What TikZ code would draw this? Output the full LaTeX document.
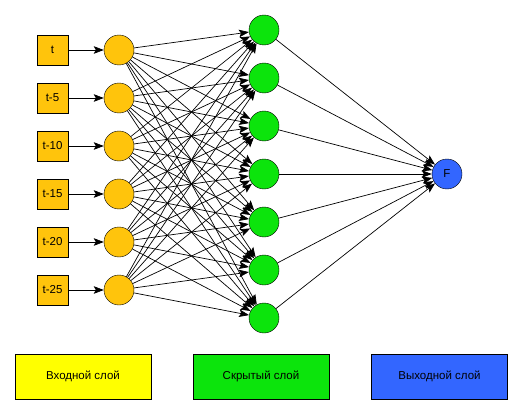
\documentclass[tikz,border=0pt]{standalone}
\usepackage{fontspec}
\setmainfont{Liberation Sans}
\usepackage{xcolor}
\usetikzlibrary{arrows.meta}

\definecolor{inorange}{HTML}{FFC40C}
\definecolor{hidgreen}{HTML}{0CE40C}
\definecolor{outblue}{HTML}{3366FF}
\definecolor{legyellow}{HTML}{FFFF00}

\tikzset{
  inbox/.style={draw=black, fill=inorange, minimum width=31pt, minimum height=30pt, inner sep=0pt, font=\fontsize{11.5}{13}\selectfont},
  neuron/.style={circle, draw=black, minimum size=30pt, inner sep=0pt, font=\fontsize{11.5}{13}\selectfont},
  legbox/.style={draw=black, minimum width=136pt, minimum height=45pt, inner sep=0pt, font=\fontsize{11.5}{13}\selectfont},
  conn/.style={-{Stealth[length=10pt,width=7.5pt,inset=2pt]}, line width=0.7pt}
}

\begin{document}
\begin{tikzpicture}[x=1pt, y=-1pt]
	  \useasboundingbox (0,0) rectangle (531,415);
	  % input layer
	  \foreach \lab [count=\i] in {t,t-5,t-10,t-15,t-20,t-25} {
	    \node[inbox] (x\i) at (52.5,{2+48*\i}) {\lab};
	    \node[neuron, fill=inorange] (in\i) at (119,{2+48*\i}) {};
	    \draw[conn] (x\i) -- (in\i);
	  }
	  % hidden layer
	  \foreach \j in {1,...,7}
	    \node[neuron, fill=hidgreen] (h\j) at (264,{-18+48*\j}) {};
	  % output
	  \node[neuron, fill=outblue] (out) at (447,174) {F};
	  \foreach \i in {1,...,6}
	    \foreach \j in {1,...,7}
	      \draw[conn] (in\i) -- (h\j);
	  \foreach \j in {1,...,7}
	    \draw[conn] (h\j) -- (out);
	  % legend
	  \node[legbox, fill=legyellow] (lin) at (83,376.5) {Входной слой};
	  \node[legbox, fill=hidgreen] (lhid) at (261,376.5) {Скрытый слой};
	  \node[legbox, fill=outblue] (lout) at (439.5,376.5) {Выходной слой};
	\end{tikzpicture}
\end{document}
